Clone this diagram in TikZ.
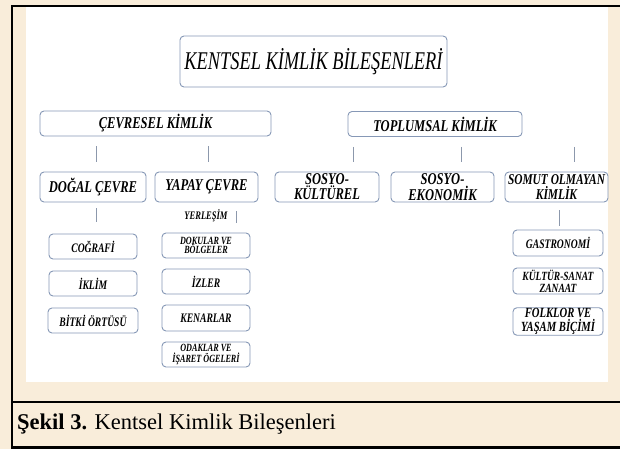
\documentclass[tikz,border=0pt]{standalone}
\usepackage{fontspec}
\setmainfont{Liberation Serif}
\newfontfamily\narrowfont[FakeStretch=0.76]{Liberation Serif}
\newfontfamily\slimfont[FakeStretch=0.74]{Liberation Serif}
\newfontfamily\titlefont[FakeStretch=0.72]{Liberation Serif}
\usepackage{tikz}
\definecolor{parchment}{RGB}{249,237,218}
\definecolor{boxline}{RGB}{134,152,182}
\definecolor{tickline}{RGB}{140,152,172}

\tikzset{
  kbox/.style={draw=boxline, fill=white, rounded corners=4pt, line width=0.9pt, inner sep=1pt, align=center},
  headbox/.style={kbox, minimum height=25pt, font=\narrowfont\itshape\bfseries\fontsize{16.5}{16}\selectfont},
  midbox/.style={kbox, minimum width=103pt, minimum height=30pt, font=\narrowfont\itshape\bfseries\fontsize{16.5}{13}\selectfont},
  smallbox/.style={kbox, minimum width=88pt, minimum height=25pt, font=\slimfont\itshape\bfseries\fontsize{13}{10}\selectfont},
  twoline/.style={font=\slimfont\itshape\bfseries\fontsize{11}{9.5}\selectfont},
  tick/.style={draw=tickline, line width=0.7pt}
}

\begin{document}
\begin{tikzpicture}[x=1pt,y=-1pt]
\useasboundingbox (0,0) rectangle (620,449);
\fill [parchment] (0,0) rectangle (620,449);
\fill [white] (26,7) rectangle (608,382);
\draw [line width=2.2pt] (625,6) -- (12,6) -- (12,447.5) -- (625,447.5);
\draw [line width=2.2pt] (12,402) -- (625,402);

\node [kbox, minimum width=267pt, minimum height=51pt, font=\titlefont\itshape\fontsize{25.5}{25}\selectfont] (title) at (313.5,61.5) {KENTSEL KİMLİK BİLEŞENLERİ};

\node [headbox, minimum width=231pt] (cevre) at (155.5,123.5) {ÇEVRESEL KİMLİK};
\node [headbox, minimum width=174pt] (toplum) at (435,124) {TOPLUMSAL KİMLİK};

\node [midbox, minimum width=106pt] (dogal) at (93,187) {DOĞAL ÇEVRE};
\node [midbox] (yapay) at (206.5,187) {YAPAY ÇEVRE};
\node [midbox, minimum width=104pt] (kultur) at (327,187) {SOSYO-\\KÜLTÜREL};
\node [midbox] (ekonomi) at (442.5,187) {SOSYO-\\EKONOMİK};
\node [midbox, font=\narrowfont\itshape\bfseries\fontsize{15}{13}\selectfont] (somut) at (556.5,187) {SOMUT OLMAYAN\\KİMLİK};

\node [font=\slimfont\itshape\bfseries\fontsize{11.5}{11}\selectfont] (yerlesim) at (206,216) {YERLEŞİM};

\node [smallbox] (cografya) at (93,246.5) {COĞRAFİ};
\node [smallbox] (iklim) at (93,283.5) {İKLİM};
\node [smallbox, minimum width=90pt] (bitki) at (93,320.5) {BİTKİ ÖRTÜSÜ};

\node [smallbox, twoline] (doku) at (206,245.5) {DOKULAR VE\\BÖLGELER};
\node [smallbox] (iz) at (206,281.5) {İZLER};
\node [smallbox, minimum height=26pt] (kenar) at (206,318) {KENARLAR};
\node [smallbox, twoline] (odak) at (206,354.5) {ODAKLAR VE\\İŞARET ÖGELERİ};

\node [smallbox, minimum width=90pt, minimum height=26pt] (gastro) at (558,243) {GASTRONOMİ};
\node [smallbox, minimum width=90pt, minimum height=26pt, font=\narrowfont\itshape\bfseries\fontsize{12.5}{12}\selectfont] (sanat) at (558,281) {KÜLTÜR-SANAT\\ZANAAT};
\node [smallbox, minimum width=90pt, minimum height=27pt, font=\narrowfont\itshape\bfseries\fontsize{14}{11.5}\selectfont] (folklor) at (558,321.5) {FOLKLOR VE\\YAŞAM BİÇİMİ};

\draw [tick, shorten <=10pt, shorten >=10pt] ([xshift=3pt]dogal.north |- cevre.south) -- ([xshift=3pt]dogal.north);
\draw [tick, shorten <=10pt, shorten >=10pt] ([xshift=1.5pt]yapay.north |- cevre.south) -- ([xshift=1.5pt]yapay.north);
\draw [tick, shorten <=10pt, shorten >=10pt] ([xshift=26pt]kultur.north |- toplum.south) -- ([xshift=26pt]kultur.north);
\draw [tick, shorten <=10pt, shorten >=10pt] ([xshift=18.5pt]ekonomi.north |- toplum.south) -- ([xshift=18.5pt]ekonomi.north);
\draw [tick, shorten <=10pt, shorten >=10pt] ([xshift=17.5pt]somut.north |- toplum.south) -- ([xshift=17.5pt]somut.north);

\draw [tick, shorten <=6pt, shorten >=12pt] ([xshift=3pt]dogal.south) -- ([xshift=3pt]dogal.south |- cografya.north);
\draw [tick, shorten <=9pt, shorten >=10pt] ([xshift=30pt]yapay.south) -- ([xshift=30pt]yapay.south |- doku.north);
\draw [tick, shorten <=8pt, shorten >=4pt] ([xshift=2.5pt]somut.south) -- ([xshift=2.5pt]somut.south |- gastro.north);

\node [anchor=base west, inner sep=0pt, font=\fontsize{22.5}{24}\selectfont] (caption) at (17,429) {\textbf{Şekil 3.} Kentsel Kimlik Bileşenleri};
\end{tikzpicture}
\end{document}
